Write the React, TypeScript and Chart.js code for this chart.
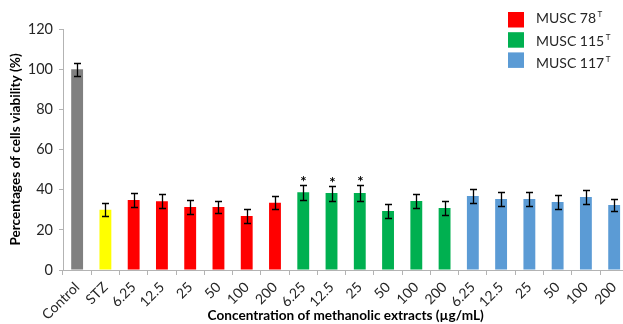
import React, { useEffect, useRef } from 'react';
import { Chart, registerables } from 'chart.js';

Chart.register(...registerables);

const categories = ['Control', 'STZ', '6.25', '12.5', '25', '50', '100', '200', '6.25', '12.5', '25', '50', '100', '200', '6.25', '12.5', '25', '50', '100', '200'];
const viability = [100, 30, 34.9, 34.2, 31.4, 31.4, 26.9, 33.5, 38.7, 38.3, 38.3, 29.4, 34.4, 30.9, 36.9, 35.4, 35.4, 33.9, 36.4, 32.4];
const errors = [3.3, 3.3, 3.3, 3.5, 3.5, 3.2, 3.6, 3.2, 3.8, 3.7, 3.8, 3.3, 3.3, 3.6, 3.3, 3.6, 3.3, 3.6, 3.4, 3.1];
const significance = ['', '', '', '', '', '', '', '', '*', '*', '*', '', '', '', '', '', '', '', '', ''];
const barGroup = [0, 1, 2, 2, 2, 2, 2, 2, 3, 3, 3, 3, 3, 3, 4, 4, 4, 4, 4, 4];
const groupColors = ['#808080', '#ffff00', '#ff0000', '#00b050', '#5b9bd5'];
const legendLabels = ['MUSC 78', 'MUSC 115', 'MUSC 117'];
const legendSup = ['T', 'T', 'T'];
const legendColors = ['#ff0000', '#00b050', '#5b9bd5'];
const yMin = 0;
const yMax = 120;
const yStep = 20;
const yTitle = 'Percentages of cells viability (%)';
const xTitle = 'Concentration of methanolic extracts (\u00b5g/mL)';

const FONT = 'Lato, "Open Sans", sans-serif';
const TEXT = '#262626';

const errorBarPlugin = {
  id: 'errorBars',
  afterDatasetsDraw(chart: any) {
    const ctx = chart.ctx;
    const meta = chart.getDatasetMeta(0);
    const y = chart.scales.y;
    ctx.save();
    ctx.strokeStyle = '#000';
    ctx.lineWidth = 1.3;
    meta.data.forEach((el: any, i: number) => {
      const v = viability[i];
      const e = errors[i];
      const yt = Math.round(y.getPixelForValue(v + e)) + 0.5;
      const yb = Math.round(y.getPixelForValue(v - e)) + 0.5;
      const x = Math.round(el.x) + 0.5;
      ctx.beginPath();
      ctx.moveTo(x, yt);
      ctx.lineTo(x, yb);
      ctx.moveTo(x - 3.5, yt);
      ctx.lineTo(x + 3.5, yt);
      ctx.moveTo(x - 3.5, yb);
      ctx.lineTo(x + 3.5, yb);
      ctx.stroke();
      if (significance[i]) {
        ctx.fillStyle = '#000';
        ctx.font = `bold 15px ${FONT}`;
        ctx.textAlign = 'center';
        ctx.textBaseline = 'alphabetic';
        ctx.fillText(significance[i], x, yt + 1.5);
      }
    });
    ctx.restore();
  },
};

const legendPlugin = {
  id: 'customLegend',
  afterDraw(chart: any) {
    const ctx = chart.ctx;
    ctx.save();
    legendLabels.forEach((label, i) => {
      const sy = 12 + i * 20.2;
      ctx.fillStyle = legendColors[i];
      ctx.fillRect(508, sy, 16, 15.5);
      ctx.fillStyle = TEXT;
      ctx.font = `14px ${FONT}`;
      ctx.textAlign = 'left';
      ctx.textBaseline = 'middle';
      const ty = 18.5 + i * 22.5;
      ctx.fillText(label, 536, ty);
      const w = ctx.measureText(label).width;
      ctx.font = `8px ${FONT}`;
      ctx.fillText(legendSup[i], 536 + w + 1.5, ty - 4);
    });
    ctx.restore();
  },
};

export default function App() {
  const ref = useRef<HTMLCanvasElement>(null);
  useEffect(() => {
    if (!ref.current) return;
    const chart = new Chart(ref.current, {
      type: 'bar',
      data: {
        labels: categories,
        datasets: [
          {
            data: viability,
            backgroundColor: barGroup.map((g) => groupColors[g]),
            barPercentage: 0.42,
            categoryPercentage: 1,
          },
        ],
      },
      options: {
        responsive: false,
        animation: false,
        devicePixelRatio: 1,
        layout: { padding: { left: 0, right: 11.7, top: 29, bottom: 0 } },
        plugins: { legend: { display: false }, tooltip: { enabled: false } },
        scales: {
          x: {
            grid: { display: true, drawOnChartArea: false, offset: true, tickLength: 5, color: '#b3b3b3' },
            border: { color: '#b3b3b3', width: 1 },
            ticks: {
              autoSkip: false,
              maxRotation: 45,
              minRotation: 45,
              padding: 4,
              color: TEXT,
              font: { family: FONT, size: 14 },
            },
            title: {
              display: true,
              text: xTitle,
              color: '#000',
              font: { family: FONT, size: 13.6, weight: 'bold' },
              padding: { top: 0, bottom: 0 },
            },
            afterFit(scale: any) {
              scale.height = 54;
            },
          },
          y: {
            min: yMin,
            max: yMax,
            ticks: {
              stepSize: yStep,
              padding: 6,
              color: TEXT,
              font: { family: FONT, size: 14.5 },
            },
            grid: { display: true, drawOnChartArea: false, tickLength: 4, color: '#b3b3b3' },
            border: { color: '#b3b3b3', width: 1 },
            title: {
              display: true,
              text: yTitle,
              color: '#000',
              font: { family: FONT, size: 13.6, weight: 'bold' },
              padding: { top: 7, bottom: 0 },
            },
            afterFit(scale: any) {
              scale.width = 63;
            },
          },
        },
      },
      plugins: [errorBarPlugin, legendPlugin],
    });
    return () => chart.destroy();
  }, []);
  return (
    <div style={{ position: 'fixed', left: 0, top: 0, width: 623, height: 324, overflow: 'hidden', background: '#fff' }}>
      <canvas ref={ref} width={640} height={324} style={{ display: 'block', width: 640, height: 324 }} />
    </div>
  );
}
